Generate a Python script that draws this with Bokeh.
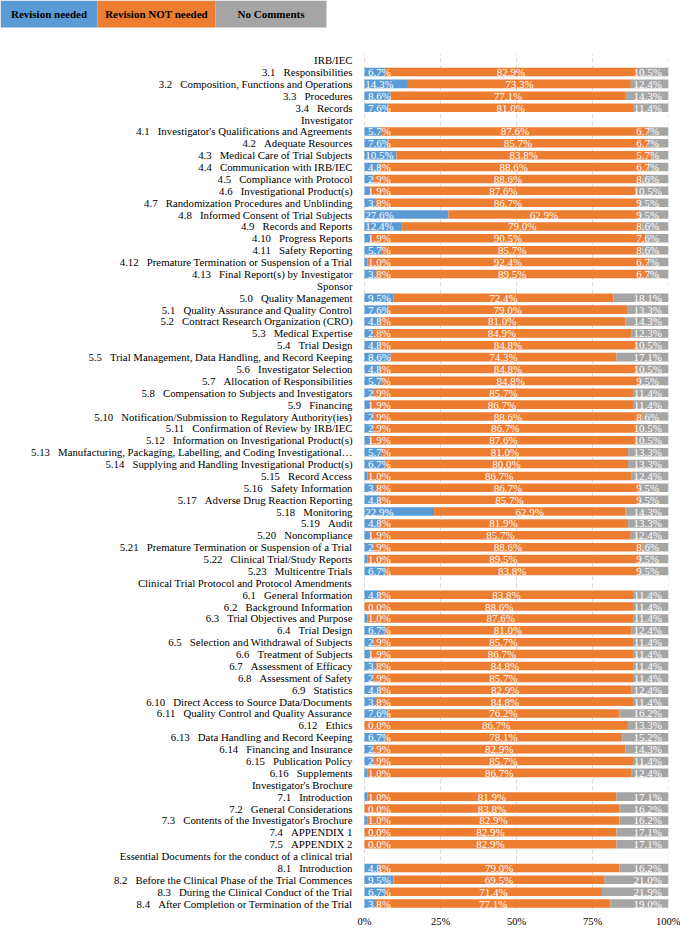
from bokeh.plotting import figure
from bokeh.models import ColumnDataSource, Range1d, FixedTicker, PrintfTickFormatter
from bokeh.core.properties import value
from bokeh.embed import file_html
from bokeh.resources import INLINE

# ---------------- data ----------------
section_names = ["IRB/IEC", "Investigator", "Sponsor",
                 "Clinical Trial Protocol and Protocol Amendments",
                 "Investigator's Brochure",
                 "Essential Documents for the conduct of a clinical trial"]
section_prefix = ["3", "4", "5", "6", "7", "8"]

item_codes = ["3.1", "3.2", "3.3", "3.4",
              "4.1", "4.2", "4.3", "4.4", "4.5", "4.6", "4.7", "4.8", "4.9", "4.10", "4.11", "4.12", "4.13",
              "5.0", "5.1", "5.2", "5.3", "5.4", "5.5", "5.6", "5.7", "5.8", "5.9", "5.10", "5.11", "5.12",
              "5.13", "5.14", "5.15", "5.16", "5.17", "5.18", "5.19", "5.20", "5.21", "5.22", "5.23",
              "6.1", "6.2", "6.3", "6.4", "6.5", "6.6", "6.7", "6.8", "6.9", "6.10", "6.11", "6.12",
              "6.13", "6.14", "6.15", "6.16",
              "7.1", "7.2", "7.3", "7.4", "7.5",
              "8.1", "8.2", "8.3", "8.4"]

item_titles = ["Responsibilities", "Composition, Functions and Operations", "Procedures", "Records",
               "Investigator's Qualifications and Agreements", "Adequate Resources",
               "Medical Care of Trial Subjects", "Communication with IRB/IEC", "Compliance with Protocol",
               "Investigational Product(s)", "Randomization Procedures and Unblinding",
               "Informed Consent of Trial Subjects", "Records and Reports", "Progress Reports",
               "Safety Reporting", "Premature Termination or Suspension of a Trial",
               "Final Report(s) by Investigator",
               "Quality Management", "Quality Assurance and Quality Control",
               "Contract Research Organization (CRO)", "Medical Expertise", "Trial Design",
               "Trial Management, Data Handling, and Record Keeping", "Investigator Selection",
               "Allocation of Responsibilities", "Compensation to Subjects and Investigators", "Financing",
               "Notification/Submission to Regulatory Authority(ies)", "Confirmation of Review by IRB/IEC",
               "Information on Investigational Product(s)",
               "Manufacturing, Packaging, Labelling, and Coding Investigational\u2026",
               "Supplying and Handling Investigational Product(s)", "Record Access", "Safety Information",
               "Adverse Drug Reaction Reporting", "Monitoring", "Audit", "Noncompliance",
               "Premature Termination or Suspension of a Trial", "Clinical Trial/Study Reports",
               "Multicentre Trials",
               "General Information", "Background Information", "Trial Objectives and Purpose",
               "Trial Design", "Selection and Withdrawal of Subjects", "Treatment of Subjects",
               "Assessment of Efficacy", "Assessment of Safety", "Statistics",
               "Direct Access to Source Data/Documents", "Quality Control and Quality Assurance", "Ethics",
               "Data Handling and Record Keeping", "Financing and Insurance", "Publication Policy",
               "Supplements",
               "Introduction", "General Considerations", "Contents of the Investigator's Brochure",
               "APPENDIX 1", "APPENDIX 2",
               "Introduction", "Before the Clinical Phase of the Trial Commences",
               "During the Clinical Conduct of the Trial", "After Completion or Termination of the Trial"]

revision_needed = [6.7, 14.3, 8.6, 7.6,
                   5.7, 7.6, 10.5, 4.8, 2.9, 1.9, 3.8, 27.6, 12.4, 1.9, 5.7, 1.0, 3.8,
                   9.5, 7.6, 4.8, 2.8, 4.8, 8.6, 4.8, 5.7, 2.9, 1.9, 2.9, 2.9, 1.9,
                   5.7, 6.7, 1.0, 3.8, 4.8, 22.9, 4.8, 1.9, 2.9, 1.0, 6.7,
                   4.8, 0.0, 1.0, 6.7, 2.9, 1.9, 3.8, 2.9, 4.8, 3.8, 7.6, 0.0, 6.7, 2.9, 2.9, 1.0,
                   1.0, 0.0, 1.0, 0.0, 0.0,
                   4.8, 9.5, 6.7, 3.8]

revision_not_needed = [82.9, 73.3, 77.1, 81.0,
                       87.6, 85.7, 83.8, 88.6, 88.6, 87.6, 86.7, 62.9, 79.0, 90.5, 85.7, 92.4, 89.5,
                       72.4, 79.0, 81.0, 84.9, 84.8, 74.3, 84.8, 84.8, 85.7, 86.7, 88.6, 86.7, 87.6,
                       81.0, 80.0, 86.7, 86.7, 85.7, 62.9, 81.9, 85.7, 88.6, 89.5, 83.8,
                       83.8, 88.6, 87.6, 81.0, 85.7, 86.7, 84.8, 85.7, 82.9, 84.8, 76.2, 86.7, 78.1,
                       82.9, 85.7, 86.7,
                       81.9, 83.8, 82.9, 82.9, 82.9,
                       79.0, 69.5, 71.4, 77.1]

no_comments = [10.5, 12.4, 14.3, 11.4,
               6.7, 6.7, 5.7, 6.7, 8.6, 10.5, 9.5, 9.5, 8.6, 7.6, 8.6, 6.7, 6.7,
               18.1, 13.3, 14.3, 12.3, 10.5, 17.1, 10.5, 9.5, 11.4, 11.4, 8.6, 10.5, 10.5,
               13.3, 13.3, 12.4, 9.5, 9.5, 14.3, 13.3, 12.4, 8.6, 9.5, 9.5,
               11.4, 11.4, 11.4, 12.4, 11.4, 11.4, 11.4, 11.4, 12.4, 11.4, 16.2, 13.3, 15.2,
               14.3, 11.4, 12.4,
               17.1, 16.2, 16.2, 17.1, 17.1,
               16.2, 21.0, 21.9, 19.0]

series_names = ["Revision needed", "Revision NOT needed", "No Comments"]
colors = ["#5B9BD5", "#ED7D31", "#A5A5A5"]
ticks = [0, 25, 50, 75, 100]

# ---------------- layout constants (pixels) ----------------
FIG_W, FIG_H = 680, 929
LABEL_PX = 364          # space left of the 0% line
PLOT_PX = 304           # width of 0..100%
RIGHT_PX = FIG_W - LABEL_PX - PLOT_PX
BOTTOM_PX = 20
TOP_PX = 53.7           # legend zone above the first row
LEG_W = [97, 118, 111]
LEG_H = 27

# ---------------- build rows ----------------
GAP = "\u00a0\u00a0\u00a0"
item_labels = [c + GAP + t for c, t in zip(item_codes, item_titles)]
rows = []
for name, pref in zip(section_names, section_prefix):
    rows.append(name)
    for c, lab in zip(item_codes, item_labels):
        if c.split(".")[0] == pref:
            rows.append(lab)
n = len(rows)
ROW_PX = (FIG_H - BOTTOM_PX - TOP_PX) / n
row_y = {lab: n - i - 0.5 for i, lab in enumerate(rows)}
item_y = [row_y[l] for l in item_labels]

FONT = value("Liberation Serif")

x_start = -LABEL_PX * 100.0 / PLOT_PX
y_end = n + TOP_PX / ROW_PX

p = figure(width=FIG_W, height=FIG_H, output_backend="svg", toolbar_location=None,
           x_range=Range1d(x_start, 100), y_range=Range1d(0, y_end),
           y_axis_location=None, title=None,
           min_border_left=0, min_border_right=RIGHT_PX, min_border_top=0, min_border_bottom=BOTTOM_PX)
p.outline_line_color = None
p.background_fill_color = "white"
p.grid.visible = False

# dashed vertical gridlines at the tick positions, only over the rows
p.segment(x0=ticks, x1=ticks, y0=[0] * len(ticks), y1=[n] * len(ticks),
          line_color="#D9D9D9", line_width=1, line_dash="4 3")

src = ColumnDataSource(dict(
    y=item_y,
    blue=revision_needed,
    orange=revision_not_needed,
    gray=no_comments,
    blue_txt=["%.1f%%" % v for v in revision_needed],
    orange_txt=["%.1f%%" % v for v in revision_not_needed],
    gray_txt=["%.1f%%" % v for v in no_comments],
    blue_x=[4.9] * len(item_y),
    orange_x=[b + o / 2 for b, o in zip(revision_needed, revision_not_needed)],
    gray_x=[93.2] * len(item_y),
))

p.hbar_stack(["blue", "orange", "gray"], y="y", height=0.72, color=colors,
             line_color=None, source=src)

for col_x, col_t in [("blue_x", "blue_txt"), ("orange_x", "orange_txt"), ("gray_x", "gray_txt")]:
    p.text(x=col_x, y="y", text=col_t, source=src, text_color="white",
           text_font=FONT, text_font_size="11px", text_align="center", text_baseline="middle")

# category labels (left of the 0% line)
lab_src = ColumnDataSource(dict(x=[0] * n, y=[row_y[r] for r in rows], t=rows))
p.text(x="x", y="y", text="t", source=lab_src, x_offset=-12, text_color="black",
       text_font=FONT, text_font_size="10.8px", text_align="right", text_baseline="middle")

# x axis
p.xaxis.ticker = FixedTicker(ticks=ticks)
p.xaxis.formatter = PrintfTickFormatter(format="%d%%")
p.xaxis.axis_line_color = None
p.xaxis.major_tick_line_color = None
p.xaxis.minor_tick_line_color = None
p.xaxis.major_tick_out = 0
p.xaxis.major_tick_in = 0
p.xaxis.major_label_standoff = 6
p.xaxis.major_label_text_font = "Liberation Serif"
p.xaxis.major_label_text_font_size = "10.5px"
p.xaxis.major_label_text_color = "black"

# legend strip at top-left
px2x = 100.0 / PLOT_PX
lefts = [x_start + sum(LEG_W[:i]) * px2x for i in range(3)]
rights = [x_start + sum(LEG_W[:i + 1]) * px2x for i in range(3)]
leg_bottom = y_end - LEG_H / ROW_PX
lsrc = ColumnDataSource(dict(left=lefts, right=rights, c=colors, name=series_names,
                             mid=[(a + b) / 2 for a, b in zip(lefts, rights)]))
p.quad(left="left", right="right", bottom=leg_bottom, top=y_end, color="c", line_color=None, source=lsrc)
p.text(x="mid", y=(leg_bottom + y_end) / 2, text="name", source=lsrc, text_color="black",
       text_font=FONT, text_font_style="bold", text_font_size="11px",
       text_align="center", text_baseline="middle")

open("out.html", "w").write(file_html(p, INLINE))
